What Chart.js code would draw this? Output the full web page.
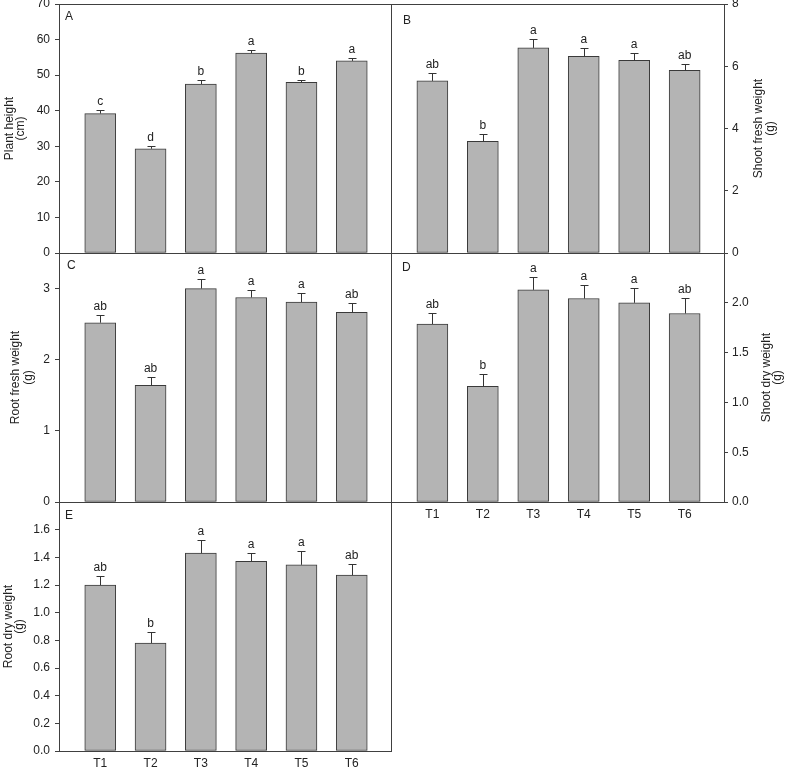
<!DOCTYPE html>
<html>
<head>
<meta charset="utf-8">
<script src="https://cdn.jsdelivr.net/npm/chart.js@4.4.0/dist/chart.umd.min.js"></script>
<style>
html,body{margin:0;padding:0;background:#fff;}
#wrap{position:relative;width:787px;height:767px;overflow:hidden;background:#fff;}
#wrap canvas{position:absolute;left:0;top:0;}
</style>
</head>
<body>
<div id="wrap">
<canvas id="cA" width="787" height="800"></canvas>
<canvas id="cB" width="787" height="800"></canvas>
<canvas id="cC" width="787" height="800"></canvas>
<canvas id="cD" width="787" height="800"></canvas>
<canvas id="cE" width="787" height="800"></canvas>
</div>
<script>
// ---------- data ----------
const treatments = ['T1','T2','T3','T4','T5','T6'];

const plantHeight        = [39.2, 29.3, 47.5, 56.2, 48.0, 54.0];
const plantHeightSE      = [1.0, 0.7, 1.0, 1.0, 0.7, 0.8];
const plantHeightLetters = ['c','d','b','a','b','a'];
const plantHeightTicks   = ['0','10','20','30','40','50','60','70'];

const shootFresh         = [5.53, 3.59, 6.59, 6.32, 6.19, 5.87];
const shootFreshSE       = [0.26, 0.22, 0.28, 0.26, 0.23, 0.20];
const shootFreshLetters  = ['ab','b','a','a','a','ab'];
const shootFreshTicks    = ['0','2','4','6','8'];

const rootFresh          = [2.52, 1.64, 3.00, 2.875, 2.81, 2.665];
const rootFreshSE        = [0.11, 0.115, 0.13, 0.105, 0.13, 0.135];
const rootFreshLetters   = ['ab','ab','a','a','a','ab'];
const rootFreshTicks     = ['0','1','2','3'];

const shootDry           = [1.787, 1.161, 2.13, 2.043, 2.0, 1.893];
const shootDrySE         = [0.11, 0.12, 0.133, 0.14, 0.153, 0.157];
const shootDryLetters    = ['ab','b','a','a','a','ab'];
const shootDryTicks      = ['0.0','0.5','1.0','1.5','2.0'];

const rootDry            = [1.199, 0.78, 1.43, 1.372, 1.346, 1.271];
const rootDrySE          = [0.063, 0.079, 0.093, 0.058, 0.098, 0.082];
const rootDryLetters     = ['ab','b','a','a','a','ab'];
const rootDryTicks       = ['0.0','0.2','0.4','0.6','0.8','1.0','1.2','1.4','1.6'];

// ---------- layout / style ----------
const W = 787, H = 800;   // canvas size (page shows 787x767)
const FONT = "'Liberation Sans', Arial, sans-serif";
const TXT = '#222';
const LINE = '#404040';
const Y_AXIS_W = 40, X_AXIS_H = 22;

const panels = [
  {id:'cA', tag:'A', vals:plantHeight, se:plantHeightSE, letters:plantHeightLetters, ticks:plantHeightTicks, max:70,
   area:{l:59,t:4,r:391,b:253}, side:'left', showX:false, title:['Plant height','(cm)'], titleX:[10,21], tagOff:[6,16]},
  {id:'cB', tag:'B', vals:shootFresh, se:shootFreshSE, letters:shootFreshLetters, ticks:shootFreshTicks, max:8,
   area:{l:391,t:4,r:724,b:253}, side:'right', showX:false, title:['Shoot fresh weight','(g)'], titleX:[759,771], tagOff:[12,20]},
  {id:'cC', tag:'C', vals:rootFresh, se:rootFreshSE, letters:rootFreshLetters, ticks:rootFreshTicks, max:3.5,
   area:{l:59,t:253,r:391,b:502}, side:'left', showX:false, title:['Root fresh weight','(g)'], titleX:[15.5,29], tagOff:[8,16]},
  {id:'cD', tag:'D', vals:shootDry, se:shootDrySE, letters:shootDryLetters, ticks:shootDryTicks, max:2.5,
   area:{l:391,t:253,r:724,b:502}, side:'right', showX:true, title:['Shoot dry weight','(g)'], titleX:[767,778], tagOff:[11,18]},
  {id:'cE', tag:'E', vals:rootDry, se:rootDrySE, letters:rootDryLetters, ticks:rootDryTicks, max:1.8,
   area:{l:59,t:502,r:391,b:751}, side:'left', showX:true, title:['Root dry weight','(g)'], titleX:[9,20], tagOff:[6,17]}
];

function makePlugin(p){
  return {
    id:'decor'+p.tag,
    afterDatasetsDraw(chart){
      const ctx = chart.ctx, ca = chart.chartArea;
      const ys = chart.scales.y;
      const meta = chart.getDatasetMeta(0);
      ctx.save();
      ctx.strokeStyle = '#333';
      ctx.lineWidth = 1;
      meta.data.forEach((bar,i)=>{
        const x = Math.round(bar.x)+0.5;
        const y0 = ys.getPixelForValue(p.vals[i]);
        const y1 = Math.round(ys.getPixelForValue(p.vals[i]+p.se[i]))+0.5;
        ctx.beginPath();
        ctx.moveTo(x,y0); ctx.lineTo(x,y1);
        ctx.moveTo(x-4,y1); ctx.lineTo(x+4,y1);
        ctx.stroke();
        ctx.fillStyle = TXT;
        ctx.font = '12px '+FONT;
        ctx.textAlign = 'center';
        ctx.textBaseline = 'alphabetic';
        ctx.fillText(p.letters[i], bar.x, y1-6);
      });
      ctx.strokeStyle = LINE;
      ctx.strokeRect(Math.round(ca.left)+0.5, Math.round(ca.top)+0.5,
                     Math.round(ca.right-ca.left), Math.round(ca.bottom-ca.top));
      ctx.fillStyle = TXT;
      ctx.font = '12px '+FONT;
      ctx.textAlign = 'left';
      ctx.textBaseline = 'alphabetic';
      ctx.fillText(p.tag, ca.left+p.tagOff[0], ca.top+p.tagOff[1]);
      const cy = (ca.top+ca.bottom)/2;
      ctx.textAlign = 'center';
      ctx.textBaseline = 'middle';
      p.title.forEach((line,k)=>{
        ctx.save();
        ctx.translate(p.titleX[k], cy);
        ctx.rotate(-Math.PI/2);
        ctx.fillText(line, 0, 0);
        ctx.restore();
      });
      ctx.restore();
    }
  };
}

panels.forEach(p=>{
  const a = p.area;
  const pad = p.side==='left'
    ? {left:a.l-Y_AXIS_W, right:W-a.r, top:a.t, bottom:H-a.b-X_AXIS_H}
    : {left:a.l, right:W-a.r-Y_AXIS_W, top:a.t, bottom:H-a.b-X_AXIS_H};
  new Chart(document.getElementById(p.id), {
    type:'bar',
    data:{
      datasets:[{
        data:p.vals.map((v,i)=>({x:i+1, y:v})),
        backgroundColor:'#b4b4b4',
        borderColor:'#3a3a3a',
        borderWidth:1,
        borderSkipped:false,
        barThickness:31
      }]
    },
    options:{
      responsive:false,
      animation:false,
      devicePixelRatio:1,
      layout:{padding:pad, autoPadding:false},
      plugins:{legend:{display:false}, tooltip:{enabled:false}},
      scales:{
        x:{
          type:'linear', position:'bottom', display:true, offset:false, min:0.18, max:6.78,
          afterBuildTicks:(s)=>{ s.ticks = treatments.map((t,i)=>({value:i+1})); },
          afterFit:(s)=>{ s.height = X_AXIS_H; },
          grid:{display:false, drawTicks:false},
          border:{display:false},
          ticks:{display:p.showX, autoSkip:false, maxRotation:0, minRotation:0, padding:5,
                 color:TXT, font:{family:FONT, size:12},
                 callback:(v)=>treatments[Math.round(v)-1] || ''}
        },
        y:{
          type:'linear', position:p.side, min:0, max:p.max,
          afterBuildTicks:(s)=>{ s.ticks = p.ticks.map(t=>({value:parseFloat(t)})); },
          afterFit:(s)=>{ s.width = Y_AXIS_W; s.paddingTop = 0; s.paddingBottom = 0; },
          grid:{display:true, drawOnChartArea:false, drawTicks:true, tickLength:4, color:LINE, lineWidth:1},
          border:{display:false},
          ticks:{padding:p.side==='left'?5:4, color:TXT, font:{family:FONT, size:12},
                 callback:(v)=>{ const i = p.ticks.findIndex(t=>parseFloat(t)===v); return i>=0 ? p.ticks[i] : ''; }}
        }
      }
    },
    plugins:[makePlugin(p)]
  });
});
</script>
</body>
</html>
